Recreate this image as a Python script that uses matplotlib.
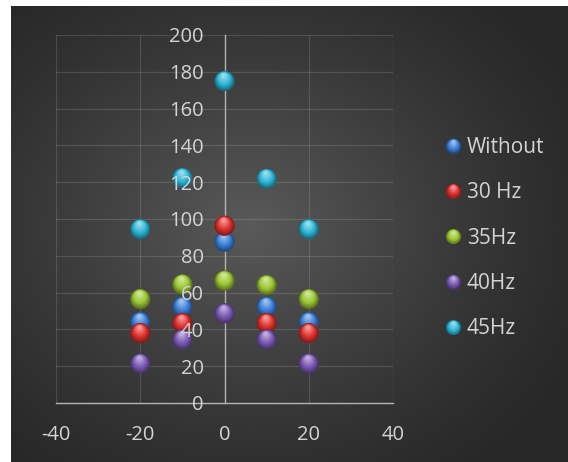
import numpy as np
import matplotlib
matplotlib.use("Agg")
import matplotlib.pyplot as plt
from matplotlib.transforms import ScaledTranslation
from matplotlib.lines import Line2D
from matplotlib.legend_handler import HandlerBase
from matplotlib.colors import to_rgb

# ---- data -------------------------------------------------------------
x_pos = [-20, -10, 0, 10, 20]
without = [44, 52.3, 87.7, 52.3, 44]
hz30 = [38, 43.4, 96.3, 43.4, 38]
hz35 = [56.5, 64.5, 66.5, 64.1, 56.5]
hz40 = [21.5, 34.5, 48.7, 34.5, 21.5]
hz45 = [94.5, 122.3, 175, 121.9, 94.5]

series_names = ["Without", "30 Hz", "35Hz", "40Hz", "45Hz"]
series_values = [without, hz30, hz35, hz40, hz45]
series_colors = ["#3a7fd8", "#e0302c", "#9cc832", "#7a58b4", "#2cb6d6"]

x_ticks = [-40, -20, 0, 20, 40]
y_ticks = [0, 20, 40, 60, 80, 100, 120, 140, 160, 180, 200]

plt.rcParams["font.family"] = ["Open Sans", "DejaVu Sans"]
plt.rcParams["axes.unicode_minus"] = False

W, H, DPI = 568, 462, 100
fig = plt.figure(figsize=(W / DPI, H / DPI), dpi=DPI)
fig.patch.set_facecolor("white")

# ---- dark radial background ------------------------------------------
bx0, by0 = 11, 6
bg = fig.add_axes([bx0 / W, 0, (W - bx0) / W, (H - by0) / H], zorder=-5)
gx = np.arange(bx0, W)
gy = np.arange(by0, H)
GX, GY = np.meshgrid(gx, gy)
r = np.sqrt(((GX - 250) / 370.0) ** 2 + ((GY - 225) / 310.0) ** 2)
r = np.clip(r, 0, 1)
val = 40 + (90 - 40) * (1 - r) ** 1.3
img = np.dstack([val, val, val]) / 255.0
bg.imshow(img, aspect="auto", interpolation="bilinear")
bg.set_axis_off()

# ---- main axes --------------------------------------------------------
L, R, T, B = 56, 393, 35, 403
ax = fig.add_axes([L / W, (H - B) / H, (R - L) / W, (B - T) / H])
ax.set_facecolor("none")
ax.set_xlim(-40, 40)
ax.set_ylim(0, 200)
ax.set_xticks(x_ticks)
ax.set_yticks(y_ticks)

grid_kw = dict(color="white", alpha=0.13, lw=0.9, zorder=0.5)
for xv in x_ticks:
    if xv != 0:
        ax.axvline(xv, **grid_kw)
for yv in y_ticks:
    if yv != 0:
        ax.axhline(yv, **grid_kw)

for s in ["top", "right"]:
    ax.spines[s].set_visible(False)
ax.spines["left"].set_position(("data", 0))
for s in ["left", "bottom"]:
    ax.spines[s].set_color("#b4b4b4")
    ax.spines[s].set_linewidth(1.0)
    ax.spines[s].set_zorder(0.6)

ax.tick_params(axis="both", length=0, labelcolor="#d4d4d4", labelsize=14.5)
ax.tick_params(axis="y", pad=15)
ax.tick_params(axis="x", pad=16)
ax.xaxis.set_zorder(5)
ax.yaxis.set_zorder(5)


def shade(color, t):
    """Blend a colour toward dark (t<0.4) or toward white (t>0.4)."""
    c = np.array(to_rgb(color))
    if t < 0.4:
        k = t / 0.4
        return tuple(c * (0.6 + 0.4 * k))
    k = (t - 0.4) / 0.6
    return tuple(c + (1 - c) * 0.5 * k)


N_LAYERS = 9


def sphere_layers(diam):
    layers = []
    for i in range(N_LAYERS):
        t = i / (N_LAYERS - 1)
        size = diam * (1 - 0.8 * t)
        dy = diam * 0.28 * t
        dx = -diam * 0.04 * t
        layers.append((t, size, dx, dy))
    return layers


MARK_D = 14.5  # points
for idx, (name, vals, col) in enumerate(zip(series_names, series_values, series_colors)):
    for t, size, dx, dy in sphere_layers(MARK_D):
        tr = ax.transData + ScaledTranslation(dx / 72, dy / 72, fig.dpi_scale_trans)
        ax.scatter(x_pos, vals, s=size ** 2, color=shade(col, t), edgecolors="none",
                   transform=tr, zorder=2 + idx * 0.1 + t * 0.01, clip_on=False)


class SphereHandler(HandlerBase):
    def __init__(self, color, diam):
        super().__init__()
        self.color = color
        self.diam = diam

    def create_artists(self, legend, orig_handle, xdescent, ydescent, width, height,
                       fontsize, trans):
        cx = width / 2 - xdescent
        cy = height / 2 - ydescent
        arts = []
        for t, size, dx, dy in sphere_layers(self.diam):
            ln = Line2D([cx + dx], [cy + dy], marker="o", markersize=size,
                        markerfacecolor=shade(self.color, t), markeredgewidth=0,
                        linestyle="none", transform=trans)
            arts.append(ln)
        return arts


handles = [Line2D([], [], marker="o", linestyle="none", color=c) for c in series_colors]
handler_map = {h: SphereHandler(c, 11) for h, c in zip(handles, series_colors)}
leg = fig.legend(handles, series_names, handler_map=handler_map,
                 loc="upper left", bbox_to_anchor=(443 / W, 1 - 137 / H),
                 frameon=False, fontsize=15, labelcolor="#d4d4d4",
                 handlelength=1.0, handletextpad=0.15, labelspacing=1.17,
                 borderpad=0, borderaxespad=0)

fig.savefig("out.png", dpi=DPI, facecolor=fig.get_facecolor())
